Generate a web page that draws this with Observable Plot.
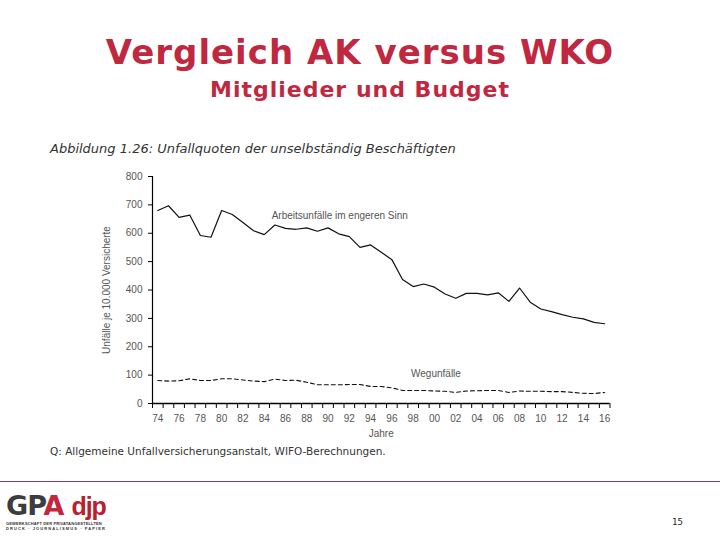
<!DOCTYPE html>
<html>
<head>
<meta charset="utf-8">
<script src="https://cdn.jsdelivr.net/npm/d3@7"></script>
<script src="https://cdn.jsdelivr.net/npm/@observablehq/plot@0.6"></script>
<style>
  html, body { margin: 0; padding: 0; background: #fff; }
  #page { position: relative; width: 720px; height: 540px; overflow: hidden; background: #fff; }
  .abs { position: absolute; white-space: nowrap; }
  #title { left: 0; width: 720px; text-align: center; top: 30px; font: bold 34px "DejaVu Sans", sans-serif; letter-spacing: 1px; color: #c0283f; line-height: 44px; }
  #subtitle { left: 0; width: 720px; text-align: center; top: 76px; font: bold 22px "DejaVu Sans", sans-serif; letter-spacing: 1px; color: #c0283f; line-height: 28px; }
  #figtitle { left: 50px; top: 141px; font: italic 13px "DejaVu Sans", sans-serif; color: #333; line-height: 16px; }
  #source { left: 50px; top: 443px; font: 10.5px "DejaVu Sans", sans-serif; color: #333; line-height: 16px; }
  #chart { left: 0; top: 160px; }
  #footline { left: 0; top: 481px; width: 720px; height: 1px; background: #8a3a56; }
  #pagenum { left: 672px; top: 517px; font: 9px "DejaVu Sans Mono", monospace; color: #222; }
  #logo { left: 6px; top: 492px; }
</style>
</head>
<body>
<div id="page">
  <div id="title" class="abs">Vergleich AK versus WKO</div>
  <div id="subtitle" class="abs">Mitglieder und Budget</div>
  <div id="figtitle" class="abs">Abbildung 1.26: Unfallquoten der unselbständig Beschäftigten</div>
  <div id="chart" class="abs"></div>
  <div id="source" class="abs">Q: Allgemeine Unfallversicherungsanstalt, WIFO-Berechnungen.</div>
  <div id="footline" class="abs"></div>
  <div id="logo" class="abs">
    <div style="font: bold 27px 'DejaVu Sans',sans-serif; line-height: 26px; letter-spacing: -1px;"><span style="color:#3d3d3d">GP</span><span style="color:#c4263b">A</span><span style="color:#b8202f; margin-left: 8px; font: bold 25px 'Liberation Sans Narrow','Liberation Sans',sans-serif;">djp</span></div>
    <div style="font: bold 4px 'Liberation Sans',sans-serif; color:#333; line-height: 5px; letter-spacing: 0.15px;">GEWERKSCHAFT DER PRIVATANGESTELLTEN</div>
    <div style="font: bold 4px 'Liberation Sans',sans-serif; color:#333; line-height: 5px; letter-spacing: 1.1px;">DRUCK · JOURNALISMUS · PAPIER</div>
  </div>
  <div id="pagenum" class="abs">15</div>
</div>
<script>
// Years (categories)
const years = [1974,1975,1976,1977,1978,1979,1980,1981,1982,1983,1984,1985,1986,1987,1988,1989,1990,1991,1992,1993,1994,1995,1996,1997,1998,1999,2000,2001,2002,2003,2004,2005,2006,2007,2008,2009,2010,2011,2012,2013,2014,2015,2016];
// Arbeitsunfälle im engeren Sinn (je 10.000 Versicherte)
const arbeitsunfaelle = [680,697,656,664,592,586,680,666,638,609,595,629,617,614,619,607,619,598,588,550,559,533,507,437,412,421,410,386,371,388,388,383,390,360,407,357,333,324,313,304,298,286,281];
// Wegunfälle (je 10.000 Versicherte)
const wegunfaelle = [81,79,80,87,81,81,87,87,83,79,77,86,81,82,75,66,66,66,67,67,60,60,55,46,46,46,44,43,39,44,45,46,46,39,44,43,43,42,42,39,36,35,39];
// Tick values
const yTicks = [0,100,200,300,400,500,600,700,800];
const xLabelYears = [1974,1976,1978,1980,1982,1984,1986,1988,1990,1992,1994,1996,1998,2000,2002,2004,2006,2008,2010,2012,2014,2016];
const xTickBounds = [1973.5,1974.5,1975.5,1976.5,1977.5,1978.5,1979.5,1980.5,1981.5,1982.5,1983.5,1984.5,1985.5,1986.5,1987.5,1988.5,1989.5,1990.5,1991.5,1992.5,1993.5,1994.5,1995.5,1996.5,1997.5,1998.5,1999.5,2000.5,2001.5,2002.5,2003.5,2004.5,2005.5,2006.5,2007.5,2008.5,2009.5,2010.5,2011.5,2012.5,2013.5,2014.5,2015.5,2016.5];
// Series labels (placed in data units)
const seriesLabels = ["Arbeitsunfälle im engeren Sinn", "Wegunfälle"];
const labelYears = [1984.7, 1997.8];
const labelValues = [662, 106];

const arbeitData = years.map((y, i) => ({year: y, value: arbeitsunfaelle[i]}));
const wegData = years.map((y, i) => ({year: y, value: wegunfaelle[i]}));
const labelData = seriesLabels.map((t, i) => ({text: t, year: labelYears[i], value: labelValues[i]}));

const font = "Liberation Sans, Arial, sans-serif";

const chart = Plot.plot({
  width: 720,
  height: 285,
  marginLeft: 152,
  marginRight: 110.5,
  marginTop: 16,
  marginBottom: 42,
  style: {fontFamily: font, fontSize: "10px", color: "#555", background: "transparent"},
  x: {domain: [1973.5, 2016.5], axis: null},
  y: {domain: [0, 800], axis: null},
  marks: [
    Plot.axisY({ticks: yTicks, tickSize: 4, tickPadding: 6, tickFormat: d => String(d), stroke: "#000", fill: "#555", label: null}),
    Plot.axisX({ticks: xTickBounds, tickSize: 5, tickFormat: () => "", stroke: "#000", label: null}),
    Plot.axisX({ticks: xLabelYears, tickSize: 0, tickPadding: 11, tickFormat: d => String(d % 100).padStart(2, "0"), fill: "#555", label: null}),
    Plot.ruleY([0], {stroke: "#000", strokeWidth: 1.5}),
    Plot.ruleX([1973.5], {y1: 0, y2: 800, stroke: "#000", strokeWidth: 1.2}),
    Plot.line(arbeitData, {x: "year", y: "value", stroke: "#111", strokeWidth: 1.2}),
    Plot.line(wegData, {x: "year", y: "value", stroke: "#111", strokeWidth: 1.1, strokeDasharray: "4,3"}),
    Plot.text(labelData, {x: "year", y: "value", text: "text", textAnchor: "start", fill: "#555", fontSize: 10}),
    Plot.text(["Jahre"], {frameAnchor: "bottom", dy: 33, fill: "#555", fontSize: 10}),
    Plot.text(["Unfälle je 10.000 Versicherte"], {frameAnchor: "left", textAnchor: "middle", dx: -46, rotate: -90, fill: "#555", fontSize: 10})
  ]
});
document.getElementById("chart").appendChild(chart);
</script>
</body>
</html>
